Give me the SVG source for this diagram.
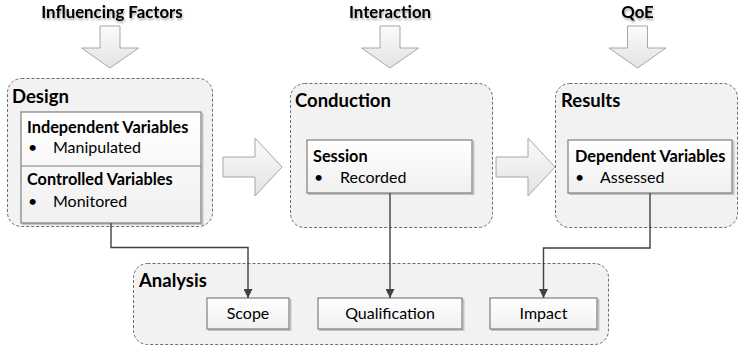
<svg xmlns="http://www.w3.org/2000/svg" width="740" height="347" viewBox="0 0 740 347">
  <defs>
    <linearGradient id="gArrowV" x1="0" y1="0" x2="0" y2="1">
      <stop offset="0" stop-color="#fbfbfb"/>
      <stop offset="1" stop-color="#e3e3e3"/>
    </linearGradient>
    <linearGradient id="gBox" x1="0" y1="0" x2="0" y2="1">
      <stop offset="0" stop-color="#ffffff"/>
      <stop offset="1" stop-color="#f0f0f0"/>
    </linearGradient>
    <filter id="txtShadow" x="-10%" y="-30%" width="120%" height="170%">
      <feGaussianBlur in="SourceAlpha" stdDeviation="1"/>
      <feOffset dx="1" dy="1.5" result="b"/>
      <feComponentTransfer><feFuncA type="linear" slope="0.35"/></feComponentTransfer>
      <feMerge><feMergeNode/><feMergeNode in="SourceGraphic"/></feMerge>
    </filter>
    <marker id="tip" viewBox="0 0 10 10" refX="10" refY="5" markerWidth="9" markerHeight="9" markerUnits="userSpaceOnUse" orient="auto">
      <path d="M0,0 L10,5 L0,10 z" fill="#404040"/>
    </marker>
  </defs>
  <style>
    text { font-family: Lato, "Liberation Sans", sans-serif; fill: #000; }
    .label { font-size: 16.8px; font-weight: bold; }
    .title { font-size: 18.5px; font-weight: bold; }
    .head { font-size: 16.3px; font-weight: bold; }
    .body { font-size: 16px; }
    .mid { text-anchor: middle; }
    .group { fill: #f2f2f2; stroke: #6d6d6d; stroke-width: 1; stroke-dasharray: 3 2; }
    .box { fill: url(#gBox); stroke: #7f7f7f; stroke-width: 1.2; }
    .shadow { fill: none; stroke: #c4c4c4; stroke-width: 2; }
    .arrow { fill: url(#gArrowV); stroke: #a6a6a6; stroke-width: 1; }
    .conn { fill: none; stroke: #404040; stroke-width: 1.4; }
  </style>

  <rect width="740" height="347" fill="#ffffff"/>

  <!-- input labels with block arrows -->
  <g id="influencing-factors">
    <text class="label mid" x="112" y="18" filter="url(#txtShadow)">Influencing Factors</text>
    <path class="arrow" d="M100,26 H120 V48 H138.5 L110,68 L81.5,48 H100 Z"/>
  </g>
  <g id="interaction">
    <text class="label mid" x="390" y="18" filter="url(#txtShadow)">Interaction</text>
    <path class="arrow" d="M380,26 H400 V48 H418.5 L390,68 L361.5,48 H380 Z"/>
  </g>
  <g id="qoe">
    <text class="label mid" x="637.5" y="18" filter="url(#txtShadow)">QoE</text>
    <path class="arrow" d="M627.5,26 H647.5 V48 H666 L637.5,68 L609,48 H627.5 Z"/>
  </g>

  <!-- Design stage -->
  <g id="design">
    <rect class="group" x="7.5" y="78.5" width="205" height="148" rx="14"/>
    <text class="title" x="12" y="103">Design</text>
    <path class="shadow" d="M202.5,113 V224 H22"/>
    <rect class="box" x="21" y="112" width="180" height="111"/>
    <line x1="21" y1="166" x2="201" y2="166" stroke="#7f7f7f" stroke-width="1.2"/>
    <text class="head" x="27" y="133">Independent Variables</text>
    <text class="body" x="28" y="153">•</text>
    <text class="body" x="53" y="153">Manipulated</text>
    <text class="head" x="27" y="185">Controlled Variables</text>
    <text class="body" x="28" y="207">•</text>
    <text class="body" x="53" y="207">Monitored</text>
  </g>

  <!-- Conduction stage -->
  <g id="conduction">
    <rect class="group" x="290.5" y="83.5" width="202" height="144" rx="14"/>
    <text class="title" x="295" y="107">Conduction</text>
    <path class="shadow" d="M473.5,141 V194 H308"/>
    <rect class="box" x="307" y="140" width="165" height="53"/>
    <text class="head" x="313" y="162">Session</text>
    <text class="body" x="314" y="183">•</text>
    <text class="body" x="340" y="183">Recorded</text>
  </g>

  <!-- Results stage -->
  <g id="results">
    <rect class="group" x="555.5" y="83.5" width="182" height="144" rx="14"/>
    <text class="title" x="561" y="107">Results</text>
    <path class="shadow" d="M733.5,141 V194 H569"/>
    <rect class="box" x="568" y="140" width="164" height="53"/>
    <text class="head" x="575" y="162">Dependent Variables</text>
    <text class="body" x="575" y="183">•</text>
    <text class="body" x="600" y="183">Assessed</text>
  </g>

  <!-- stage-to-stage block arrows -->
  <g id="flow-arrows">
    <path class="arrow" d="M223,157 H255 V138 L282,167 L255,196 V177 H223 Z"/>
    <path class="arrow" d="M496,157 H528 V138 L555,167 L528,196 V177 H496 Z"/>
  </g>

  <!-- Analysis stage -->
  <g id="analysis">
    <rect class="group" x="133.5" y="263.5" width="475" height="81" rx="14"/>
    <text class="title" x="139" y="287">Analysis</text>
  </g>
  <g id="scope">
    <path class="shadow" d="M290.5,299 V330 H208"/>
    <rect class="box" x="207" y="298" width="82" height="31"/>
    <text class="body mid" x="248" y="319">Scope</text>
  </g>
  <g id="qualification">
    <path class="shadow" d="M463.5,299 V330 H319"/>
    <rect class="box" x="318" y="298" width="144" height="31"/>
    <text class="body mid" x="390" y="319">Qualification</text>
  </g>
  <g id="impact">
    <path class="shadow" d="M598.5,299 V330 H491"/>
    <rect class="box" x="490" y="298" width="107" height="31"/>
    <text class="body mid" x="543.5" y="319">Impact</text>
  </g>

  <!-- connectors into the analysis -->
  <g id="connectors">
    <path class="conn" d="M111,223 V247.5 H248 V298" marker-end="url(#tip)"/>
    <path class="conn" d="M390,193 V298" marker-end="url(#tip)"/>
    <path class="conn" d="M650,193 V248 H543.5 V298" marker-end="url(#tip)"/>
  </g>
</svg>
